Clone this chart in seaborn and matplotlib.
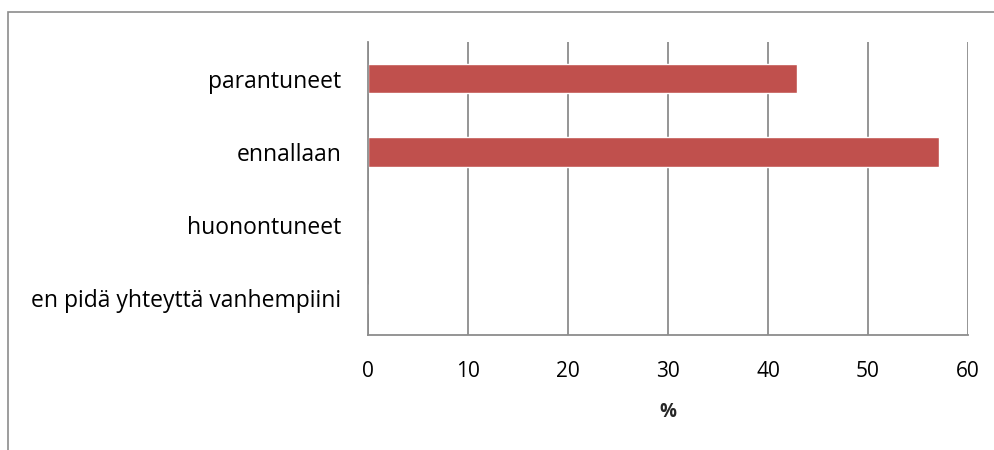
import matplotlib
matplotlib.use("Agg")
import matplotlib.pyplot as plt
import seaborn as sns
import pandas as pd
from matplotlib.patches import Rectangle

categories = ["parantuneet", "ennallaan", "huonontuneet", "en pidä yhteyttä vanhempiini"]
values = [42.86, 57.14, 0, 0]
xticks = [0, 10, 20, 30, 40, 50, 60]

sns.set_theme(style="white")
plt.rcParams["font.family"] = ["Open Sans", "DejaVu Sans"]

df = pd.DataFrame({"cat": categories, "val": values})

fig = plt.figure(figsize=(9.95, 4.5), dpi=100)
ax = fig.add_axes([368/995, 1-335/450, 600/995, 293/450])
sns.barplot(data=df, y="cat", x="val", orient="h", color="#C0504D",
            saturation=1, width=0.4, ax=ax)
ax.set_xlim(0, 60)
ax.set_xticks(xticks)
ax.set_xticklabels([str(t) for t in xticks], fontsize=15)
ax.tick_params(axis="x", length=0, pad=19)
ax.tick_params(axis="y", length=0, pad=19, labelsize=16.5)
ax.xaxis.grid(True, color="#8C8C8C", linewidth=1.3)
ax.set_axisbelow(True)
for s in ["top", "right"]:
    ax.spines[s].set_visible(False)
for s in ["left", "bottom"]:
    ax.spines[s].set_color("#8C8C8C")
    ax.spines[s].set_linewidth(1.3)
ax.set_ylabel("")
ax.set_xlabel("%", fontsize=13.5, fontweight="bold", labelpad=14)
for lab in ax.get_yticklabels():
    lab.set_color("black")
for lab in ax.get_xticklabels():
    lab.set_color("black")

fig.patches.append(Rectangle((8/995, -0.1), 1.1, 1 - 12/450 + 0.1,
                             transform=fig.transFigure, fill=False,
                             edgecolor="#8C8C8C", linewidth=1.2))
fig.savefig("out.png", dpi=100, facecolor="white")
